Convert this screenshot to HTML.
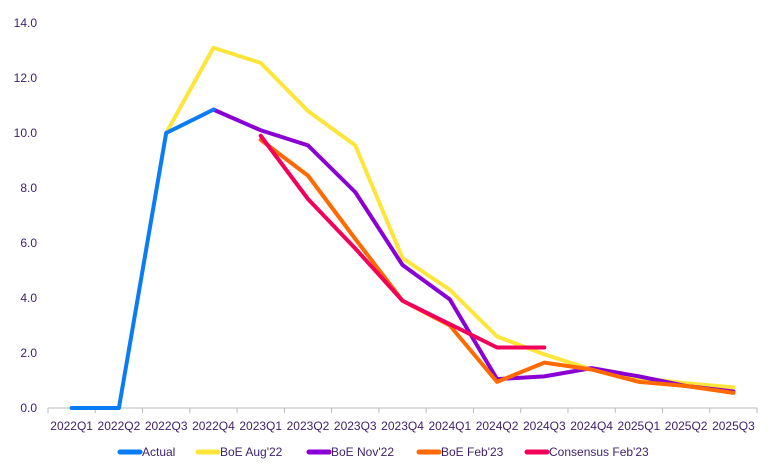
<!DOCTYPE html>
<html><head><style>
body{margin:0;background:#fff;}
svg text{font-family:"Liberation Sans",sans-serif;font-size:12px;fill:#3d1f6b;}
</style></head><body>
<svg width="768" height="471" viewBox="0 0 768 471">
<g text-anchor="end">
<text x="37" y="412">0.0</text><text x="37" y="357">2.0</text><text x="37" y="302">4.0</text>
<text x="37" y="247">6.0</text><text x="37" y="192">8.0</text><text x="37" y="137">10.0</text>
<text x="37" y="82">12.0</text><text x="37" y="27">14.0</text>
</g>
<line x1="48" y1="408" x2="757" y2="408" stroke="#bbb"/>
<g id="ticks" stroke="#bbb"></g>
<g id="lbl" text-anchor="middle"></g>
<g id="ser" fill="none" stroke-width="4" stroke-linejoin="round" stroke-linecap="round"></g>
<g font-size="12">
<line x1="120" y1="452" x2="140" y2="452" stroke="#0a7cf5" stroke-width="5" stroke-linecap="round"/><text x="142" y="456">Actual</text>
<line x1="198" y1="452" x2="218" y2="452" stroke="#fde53a" stroke-width="5" stroke-linecap="round"/><text x="220" y="456">BoE Aug'22</text>
<line x1="309" y1="452" x2="329" y2="452" stroke="#8a00d4" stroke-width="5" stroke-linecap="round"/><text x="331" y="456">BoE Nov'22</text>
<line x1="419" y1="452" x2="439" y2="452" stroke="#ff6a00" stroke-width="5" stroke-linecap="round"/><text x="441" y="456">BoE Feb'23</text>
<line x1="527" y1="452" x2="547" y2="452" stroke="#f2005a" stroke-width="5" stroke-linecap="round"/><text x="549" y="456">Consensus Feb'23</text>
</g>
</svg>
<script>
const NS="http://www.w3.org/2000/svg",w=47.27,x0=48;
const labs=["2022Q1","2022Q2","2022Q3","2022Q4","2023Q1","2023Q2","2023Q3","2023Q4","2024Q1","2024Q2","2024Q3","2024Q4","2025Q1","2025Q2","2025Q3"];
const t=document.getElementById("ticks"),l=document.getElementById("lbl"),s=document.getElementById("ser");
for(let i=0;i<=15;i++){const e=document.createElementNS(NS,"line");e.setAttribute("x1",x0+i*w);e.setAttribute("x2",x0+i*w);e.setAttribute("y1",408);e.setAttribute("y2",413);t.appendChild(e);}
labs.forEach((b,i)=>{const e=document.createElementNS(NS,"text");e.setAttribute("x",x0+w/2+i*w);e.setAttribute("y",430);e.textContent=b;l.appendChild(e);});
const X=i=>x0+w/2+i*w,Y=v=>408-v*27.5;
const S=[["#fde53a",2,[10,13.1,12.55,10.8,9.55,5.45,4.3,2.6,1.95,1.4,1.1,0.9,0.75]],
["#8a00d4",3,[10.85,10.1,9.55,7.85,5.2,3.95,1.05,1.15,1.45,1.15,0.8,0.6]],
["#ff6a00",4,[9.75,8.45,6.15,3.9,3.0,0.95,1.65,1.4,0.95,0.8,0.55]],
["#f2005a",4,[9.9,7.6,5.8,3.9,3.05,2.2,2.2]],
["#0a7cf5",0,[0,0,10.0,10.85]]];
S.forEach(([c,st,d])=>{const p=document.createElementNS(NS,"polyline");p.setAttribute("stroke",c);p.setAttribute("points",d.map((v,i)=>X(st+i)+","+Y(v)).join(" "));s.appendChild(p);});
</script>
</body></html>
